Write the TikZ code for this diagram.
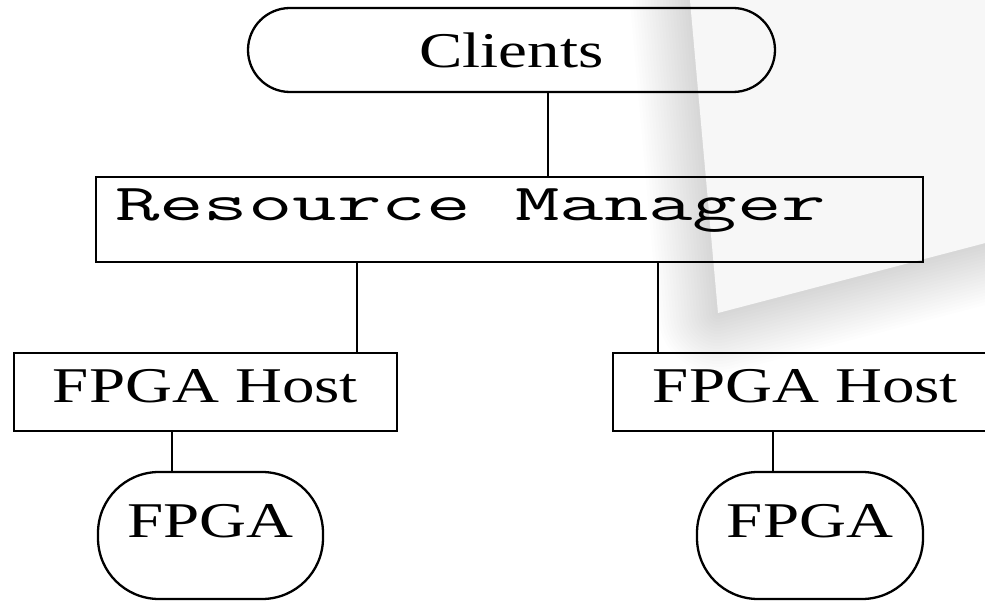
\documentclass[tikz,border=0pt]{standalone}
\usepackage{fontspec}
\newfontfamily\serifwide[FakeStretch=1.3]{Liberation Serif}
\definecolor{sheet}{RGB}{247,247,247}
\tikzset{
  box/.style={draw, line width=2.3pt, inner sep=0pt},
  link/.style={line width=2.1pt},
  serifbig/.style={font=\serifwide\fontsize{50}{60}\selectfont},
  monobig/.style={font=\ttfamily\fontsize{52}{60}\selectfont},
}
\begin{document}
\begin{tikzpicture}[x=1pt, y=-1pt]
\useasboundingbox (0,0) rectangle (985,601);
\clip (0,0) rectangle (985,601);
\fill[white] (0,0) rectangle (985,601);

% faint sheet in the background with its soft shadow
\foreach \w in {6,12,...,120}
  \draw[black, opacity=0.006, line width=\w pt, line join=round]
    (681,-100) -- (718,313) -- (1100,213);
\fill[sheet] (681,-100) -- (718,313) -- (1100,213) -- (1100,-100) -- cycle;

% nodes
\node[box, serifbig, rounded corners=42pt, minimum width=527pt, minimum height=84pt]
  (clients) at (511.5,50) {Clients};
\node[box, minimum width=827pt, minimum height=85pt] (rm) at (509.5,219.5) {};
\node[monobig, anchor=base west, inner sep=0pt] (rmlabel)
  at ([xshift=20pt, yshift=-45pt]rm.north west) {\scalebox{1.66}[1]{Resource Manager}};

\node[box, serifbig, minimum width=383pt, minimum height=78pt, text depth=12pt]
  (hostL) at (205.5,392) {FPGA Host};
\node[box, serifbig, minimum width=385pt, minimum height=78pt, text depth=12pt]
  (hostR) at (805.5,392) {FPGA Host};

\node[box, serifbig, rounded corners=61pt, minimum width=225pt, minimum height=127pt, text depth=30pt]
  (fpgaL) at (210.5,535.5) {FPGA};
\node[box, serifbig, rounded corners=61pt, minimum width=226pt, minimum height=127pt, text depth=30pt]
  (fpgaR) at (810,535.5) {FPGA};

% connector positions
\coordinate (xc) at (548,0);
\coordinate (xl) at (357,0);
\coordinate (xr) at (658,0);
\coordinate (xfl) at (172,0);
\coordinate (xfr) at (773,0);

\draw[link] (clients.south -| xc) -- (rm.north -| xc);
\draw[link] (rm.south -| xl) -- (hostL.north -| xl);
\draw[link] (rm.south -| xr) -- (hostR.north -| xr);
\draw[link] (hostL.south -| xfl) -- (fpgaL.north -| xfl);
\draw[link] (hostR.south -| xfr) -- (fpgaR.north -| xfr);
\end{tikzpicture}
\end{document}
